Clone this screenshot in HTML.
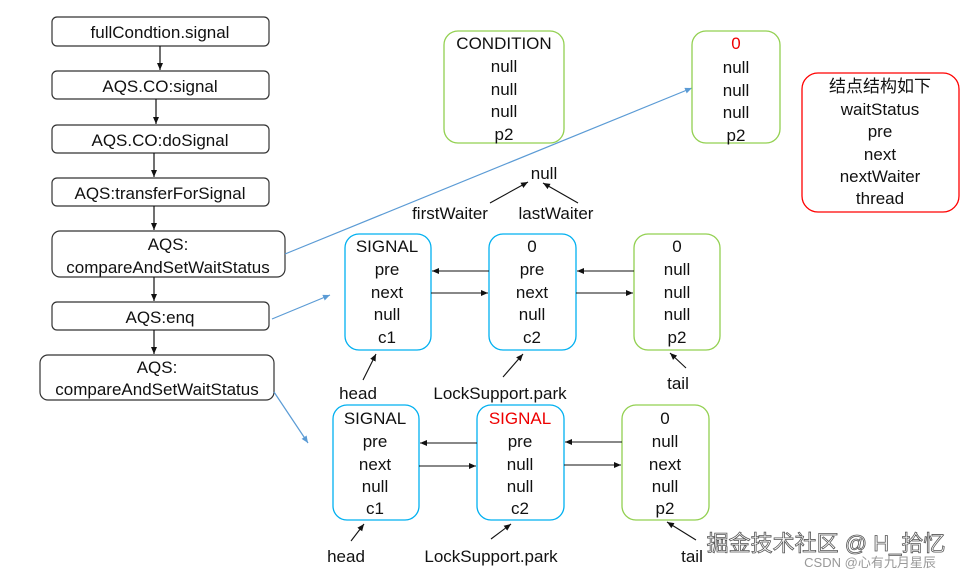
<!DOCTYPE html>
<html><head><meta charset="utf-8"><style>
body{margin:0;background:#fff}
svg text{font-family:"Liberation Sans","Noto Sans CJK SC",sans-serif;font-size:17px;fill:#111;text-anchor:middle}
</style></head><body>
<svg width="976" height="576" viewBox="0 0 976 576" xmlns="http://www.w3.org/2000/svg">
<defs>
<marker id="a" markerWidth="8" markerHeight="8" refX="7" refY="4" orient="auto" markerUnits="userSpaceOnUse"><path d="M0,1 L7,4 L0,7z" fill="#111"/></marker>
<marker id="b" markerWidth="8" markerHeight="8" refX="7" refY="4" orient="auto" markerUnits="userSpaceOnUse"><path d="M0,1 L7,4 L0,7z" fill="#5b9bd5"/></marker>
</defs>
<g fill="#fff" stroke="#333" stroke-width="1.2">
<rect x="52" y="17" width="217" height="29" rx="5"/>
<rect x="52" y="71" width="217" height="28" rx="5"/>
<rect x="52" y="125" width="217" height="28" rx="5"/>
<rect x="52" y="178" width="217" height="28" rx="5"/>
<rect x="52" y="231" width="233" height="46" rx="8"/>
<rect x="52" y="302" width="217" height="28" rx="5"/>
<rect x="40" y="355" width="234" height="45" rx="8"/>
</g>
<g stroke="#111" stroke-width="1.2" marker-end="url(#a)">
<line x1="160" y1="46" x2="160" y2="70"/>
<line x1="156" y1="99" x2="156" y2="124"/>
<line x1="154" y1="153" x2="154" y2="177"/>
<line x1="154" y1="206" x2="154" y2="230"/>
<line x1="154" y1="277" x2="154" y2="301"/>
<line x1="154" y1="330" x2="154" y2="354"/>
</g>
<text x="160" y="38">fullCondtion.signal</text>
<text x="160" y="92">AQS.CO:signal</text>
<text x="160" y="146">AQS.CO:doSignal</text>
<text x="160" y="199">AQS:transferForSignal</text>
<text x="168" y="250">AQS:</text>
<text x="168" y="273">compareAndSetWaitStatus</text>
<text x="160" y="323">AQS:enq</text>
<text x="157" y="373">AQS:</text>
<text x="157" y="395">compareAndSetWaitStatus</text>

<g stroke="#5b9bd5" stroke-width="1.2" marker-end="url(#b)">
<line x1="285" y1="254" x2="692" y2="88"/>
<line x1="272" y1="319" x2="330" y2="295"/>
<line x1="274" y1="392" x2="308" y2="443"/>
</g>

<g fill="#fff" stroke-width="1.3">
<rect x="444" y="31" width="120" height="112" rx="14" stroke="#92d050"/>
<rect x="692" y="31" width="88" height="112" rx="14" stroke="#92d050"/>
<rect x="802" y="73" width="157" height="139" rx="16" stroke="#ff0000"/>
<rect x="345" y="234" width="86" height="116" rx="14" stroke="#00b0f0"/>
<rect x="489" y="234" width="87" height="116" rx="14" stroke="#00b0f0"/>
<rect x="634" y="234" width="86" height="116" rx="14" stroke="#92d050"/>
<rect x="333" y="405" width="86" height="115" rx="14" stroke="#00b0f0"/>
<rect x="477" y="405" width="87" height="115" rx="14" stroke="#00b0f0"/>
<rect x="622" y="405" width="87" height="115" rx="14" stroke="#92d050"/>
</g>
<text x="504" y="49">CONDITION</text><text x="504" y="72">null</text><text x="504" y="95">null</text><text x="504" y="117">null</text><text x="504" y="140">p2</text>
<text x="736" y="49" style="fill:#e00">0</text><text x="736" y="73">null</text><text x="736" y="96">null</text><text x="736" y="118">null</text><text x="736" y="141">p2</text>
<text x="880" y="92">结点结构如下</text><text x="880" y="115">waitStatus</text><text x="880" y="137">pre</text><text x="880" y="160">next</text><text x="880" y="182">nextWaiter</text><text x="880" y="204">thread</text>

<text x="544" y="179">null</text>
<text x="450" y="219">firstWaiter</text><text x="556" y="219">lastWaiter</text>

<text x="387" y="252">SIGNAL</text><text x="387" y="275">pre</text><text x="387" y="298">next</text><text x="387" y="320">null</text><text x="387" y="343">c1</text>
<text x="532" y="252">0</text><text x="532" y="275">pre</text><text x="532" y="298">next</text><text x="532" y="320">null</text><text x="532" y="343">c2</text>
<text x="677" y="252">0</text><text x="677" y="275">null</text><text x="677" y="298">null</text><text x="677" y="320">null</text><text x="677" y="343">p2</text>
<text x="358" y="399">head</text><text x="500" y="399">LockSupport.park</text><text x="678" y="389">tail</text>

<text x="375" y="424">SIGNAL</text><text x="375" y="447">pre</text><text x="375" y="470">next</text><text x="375" y="492">null</text><text x="375" y="514">c1</text>
<text x="520" y="424" style="fill:#e00">SIGNAL</text><text x="520" y="447">pre</text><text x="520" y="470">null</text><text x="520" y="492">null</text><text x="520" y="514">c2</text>
<text x="665" y="424">0</text><text x="665" y="447">null</text><text x="665" y="470">next</text><text x="665" y="492">null</text><text x="665" y="514">p2</text>
<text x="346" y="562">head</text><text x="491" y="562">LockSupport.park</text><text x="692" y="562">tail</text>

<g stroke="#111" stroke-width="1.1" marker-end="url(#a)">
<line x1="490" y1="203" x2="528" y2="182"/>
<line x1="578" y1="203" x2="543" y2="183"/>
<line x1="489" y1="271" x2="432" y2="271"/>
<line x1="431" y1="293" x2="488" y2="293"/>
<line x1="634" y1="271" x2="577" y2="271"/>
<line x1="576" y1="293" x2="633" y2="293"/>
<line x1="363" y1="380" x2="376" y2="354"/>
<line x1="503" y1="377" x2="523" y2="354"/>
<line x1="686" y1="368" x2="670" y2="353"/>
<line x1="477" y1="443" x2="420" y2="443"/>
<line x1="419" y1="466" x2="476" y2="466"/>
<line x1="622" y1="442" x2="565" y2="442"/>
<line x1="564" y1="465" x2="621" y2="465"/>
<line x1="351" y1="541" x2="364" y2="524"/>
<line x1="491" y1="539" x2="511" y2="524"/>
<line x1="696" y1="540" x2="667" y2="522"/>
</g>
<text x="826" y="551" style="font-size:22px;fill:#fff;stroke:#555;stroke-width:0.8">掘金技术社区 @ H_拾忆</text>
<text x="870" y="567" style="font-size:13px;fill:#999">CSDN @心有九月星辰</text>
</svg>
</body></html>
